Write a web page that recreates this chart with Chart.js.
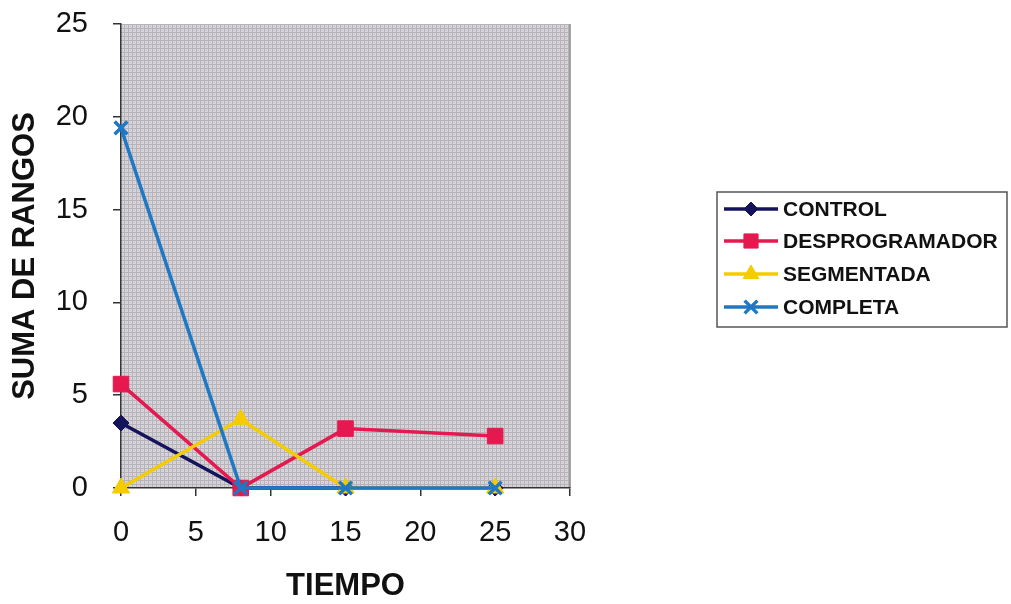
<!DOCTYPE html>
<html>
<head>
<meta charset="utf-8">
<script src="https://cdn.jsdelivr.net/npm/chart.js@4.4.1/dist/chart.umd.min.js"></script>
<style>
  html, body { margin: 0; padding: 0; background: #ffffff; }
  #wrap { width: 1011px; height: 604px; position: relative; }
</style>
</head>
<body>
<div id="wrap"><canvas id="c" width="1011" height="604"></canvas></div>
<script>
// ---- data ----
const tiempo = [0, 8, 15, 25];
const control = [3.5, 0, 0, 0];
const desprogramador = [5.6, 0, 3.2, 2.8];
const segmentada = [0, 3.7, 0, 0];
const completa = [19.4, 0, 0, 0];
const seriesNames = ['CONTROL', 'DESPROGRAMADOR', 'SEGMENTADA', 'COMPLETA'];
const xTitle = 'TIEMPO';
const yTitle = 'SUMA DE RANGOS';

const FONT = '"Liberation Sans", Arial, sans-serif';

function pts(vals) { return tiempo.map((t, i) => ({ x: t, y: vals[i] })); }

// stippled gray pattern for plot area
function makePattern(ctx) {
  const p = document.createElement('canvas');
  p.width = 4; p.height = 4;
  const g = p.getContext('2d');
  g.fillStyle = '#d8d6da';
  g.fillRect(0, 0, 4, 4);
  g.fillStyle = '#b5b3b9';
  g.fillRect(0, 0, 1, 4);
  g.fillRect(0, 0, 4, 1);
  g.fillStyle = '#c6c4c9';
  g.fillRect(2, 2, 1, 1);
  return ctx.createPattern(p, 'repeat');
}

const plotBg = {
  id: 'plotBg',
  beforeDraw(chart) {
    const { ctx, chartArea: a } = chart;
    ctx.save();
    ctx.fillStyle = makePattern(ctx);
    ctx.fillRect(a.left, a.top, a.right - a.left, a.bottom - a.top);
    ctx.strokeStyle = '#8a8a8a';
    ctx.lineWidth = 1.5;
    ctx.beginPath();
    ctx.moveTo(a.right, a.top);
    ctx.lineTo(a.right, a.bottom);
    ctx.stroke();
    ctx.restore();
  }
};

// legend box drawn from the datasets
const boxLegend = {
  id: 'boxLegend',
  afterDraw(chart) {
    const { ctx } = chart;
    const bx = 717, by = 192, bw = 290, bh = 135;
    ctx.save();
    ctx.fillStyle = '#ffffff';
    ctx.fillRect(bx, by, bw, bh);
    ctx.strokeStyle = '#555555';
    ctx.lineWidth = 1.5;
    ctx.strokeRect(bx, by, bw, bh);
    const rows = [209, 241, 274, 307];
    chart.data.datasets.forEach((ds, i) => {
      const y = rows[i];
      ctx.strokeStyle = ds.borderColor;
      ctx.lineWidth = ds.borderWidth;
      ctx.beginPath();
      ctx.moveTo(724, y);
      ctx.lineTo(778, y);
      ctx.stroke();
      ctx.fillStyle = ds.pointBackgroundColor;
      ctx.strokeStyle = ds.pointBorderColor;
      ctx.lineWidth = ds.pointBorderWidth;
      Chart.helpers.drawPoint(ctx, {
        pointStyle: ds.pointStyle,
        radius: ds.legendRadius,
        borderWidth: ds.pointBorderWidth,
        rotation: 0
      }, 751, y);
      ctx.fillStyle = '#111111';
      ctx.font = 'bold 21px ' + FONT;
      ctx.textBaseline = 'middle';
      ctx.textAlign = 'left';
      ctx.fillText(ds.label, 783, y + 1);
    });
    ctx.restore();
  }
};

const colors = ['#15135c', '#e5194f', '#f5cc00', '#1f78c4'];

const datasets = [
  { label: seriesNames[0], data: pts(control), borderColor: colors[0], backgroundColor: colors[0],
    pointStyle: 'rectRot', pointRadius: 8, legendRadius: 7, pointBackgroundColor: colors[0], pointBorderColor: colors[0],
    pointBorderWidth: 1, borderWidth: 3.5, order: 4, clip: false },
  { label: seriesNames[1], data: pts(desprogramador), borderColor: colors[1], backgroundColor: colors[1],
    pointStyle: 'rect', pointRadius: 11, legendRadius: 10, pointBackgroundColor: colors[1], pointBorderColor: colors[1],
    pointBorderWidth: 1, borderWidth: 3.5, order: 3, clip: false },
  { label: seriesNames[2], data: pts(segmentada), borderColor: colors[2], backgroundColor: colors[2],
    pointStyle: 'triangle', pointRadius: 10, legendRadius: 9, pointBackgroundColor: colors[2], pointBorderColor: colors[2],
    pointBorderWidth: 1, borderWidth: 3.5, order: 2, clip: false },
  { label: seriesNames[3], data: pts(completa), borderColor: colors[3], backgroundColor: colors[3],
    pointStyle: 'crossRot', pointRadius: 9, legendRadius: 9, pointBackgroundColor: colors[3], pointBorderColor: colors[3],
    pointBorderWidth: 3.5, borderWidth: 3.5, order: 1, clip: false }
];

new Chart(document.getElementById('c'), {
  type: 'line',
  data: { datasets },
  options: {
    responsive: false,
    animation: false,
    events: [],
    layout: { padding: { left: 0, top: 24, right: 441, bottom: 0 } },
    plugins: { legend: { display: false }, tooltip: { enabled: false } },
    elements: { line: { tension: 0 } },
    scales: {
      x: {
        type: 'linear',
        min: 0, max: 30,
        ticks: { stepSize: 5, color: '#111111', font: { family: FONT, size: 29 }, padding: 20, maxRotation: 0 },
        grid: { drawOnChartArea: false, drawTicks: true, tickLength: 8, color: '#333333', lineWidth: 1.5 },
        border: { display: true, color: '#333333', width: 1.5 },
        title: { display: true, text: xTitle, color: '#111111', font: { family: FONT, size: 31, weight: 'bold', lineHeight: 1.1 }, padding: { top: 0, bottom: 0 } },
        afterFit(scale) { scale.height = 116; scale.paddingLeft = 0; scale.paddingRight = 0; }
      },
      y: {
        min: 0, max: 25,
        ticks: { stepSize: 5, color: '#111111', font: { family: FONT, size: 29 }, padding: 25 },
        grid: { drawOnChartArea: false, drawTicks: true, tickLength: 8, color: '#333333', lineWidth: 1.5 },
        border: { display: true, color: '#333333', width: 1.5 },
        title: { display: true, text: yTitle, color: '#111111', font: { family: FONT, size: 31, weight: 'bold', lineHeight: 1.1 }, padding: { top: 8, bottom: 0 } },
        afterFit(scale) { scale.width = 121; scale.paddingTop = 0; scale.paddingBottom = 0; }
      }
    }
  },
  plugins: [plotBg, boxLegend]
});
</script>
</body>
</html>
